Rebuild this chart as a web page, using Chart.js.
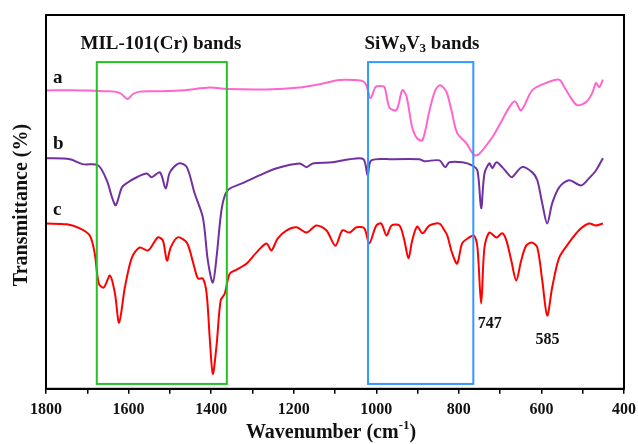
<!DOCTYPE html>
<html>
<head>
<meta charset="utf-8">
<script src="https://cdn.jsdelivr.net/npm/chart.js@4.4.1/dist/chart.umd.min.js"></script>
<style>
  html, body { margin: 0; padding: 0; background: #fff; }
  #wrap { width: 638px; height: 444px; }
</style>
</head>
<body>
<div id="wrap"><canvas id="myChart" width="638" height="444"></canvas></div>
<script>
// spectra (wavenumber cm-1, transmittance in arbitrary offset units)
const wnA = [1800,1742,1694,1657,1633,1619,1602,1590,1573,1524,1464,1403,1362,1266,1186,1137,1089,1053,1033,1024,1014,1002,990,980,968,951,937,927,913,901,888,871,857,845,830,818,804,782,763,751,719,702,678,664,649,622,589,557,545,533,514,492,477,468,460,451];
const tA  = [79.8,79.9,79.8,79.6,79.5,79.0,77.5,78.8,79.5,79.6,79.9,80.6,80.2,80.1,80.6,81.5,82.6,82.6,82.3,81.2,77.7,80.7,81.0,80.7,75.2,74.6,79.9,78.3,70.0,67.0,66.5,74.5,79.9,81.2,79.4,74.5,68.4,65.7,62.5,62.8,67.3,70.5,75.3,76.9,74.5,79.9,81.8,82.7,80.8,78.6,75.9,76.7,79.1,81.8,80.7,82.7];

const wnB = [1800,1742,1711,1674,1653,1640,1631,1616,1602,1580,1556,1544,1524,1510,1500,1478,1459,1440,1420,1408,1396,1387,1374,1360,1324,1283,1241,1186,1169,1154,1106,1065,1031,1021,1012,961,896,884,847,833,823,792,768,755,746,738,726,719,709,695,678,671,647,622,610,598,586,574,557,533,504,485,468,451];
const tB  = [61.7,61.4,60.1,59.8,55.8,51.2,49.1,53.9,55.2,56.6,57.6,56.6,57.9,53.6,57.9,60.3,59.3,52.3,45.8,34.3,28.4,35.1,48.5,53.1,55.0,57.1,59.0,60.3,59.3,60.3,60.6,61.4,61.4,57.1,61.1,61.4,61.4,60.9,61.1,59.3,60.6,60.6,59.8,58.4,48.3,57.6,60.3,59.0,60.6,59.3,57.1,56.6,59.3,57.9,55.8,49.6,44.2,49.6,53.9,55.8,54.4,56.3,58.4,61.7];

const wnC = [1800,1749,1718,1694,1682,1672,1660,1645,1633,1623,1609,1592,1573,1553,1529,1517,1507,1498,1481,1459,1445,1432,1420,1411,1403,1396,1387,1377,1367,1355,1338,1314,1290,1266,1254,1239,1217,1193,1169,1145,1121,1099,1082,1065,1048,1029,1017,1000,988,975,963,944,932,922,913,901,888,871,847,835,828,816,804,792,775,763,755,746,738,726,709,695,685,673,661,649,637,622,610,598,586,574,557,533,509,485,468,451];
const tC  = [44.2,44.0,42.9,41.0,36.2,28.1,27.1,30.3,25.5,17.7,27.1,35.1,37.8,37.0,40.5,39.7,34.3,37.8,40.5,39.1,34.3,29.5,29.5,25.5,12.9,4.0,11.5,23.6,25.5,30.8,31.9,33.5,36.5,38.9,37.0,40.2,42.4,43.2,41.8,43.7,42.4,38.3,42.4,41.8,43.2,42.9,38.9,43.7,44.2,41.0,43.7,43.7,39.7,34.9,39.7,43.4,41.6,43.7,44.2,42.4,41.0,36.2,33.5,38.9,40.5,41.0,37.8,22.8,37.8,41.8,40.5,41.6,39.7,34.3,29.0,34.3,38.3,39.1,37.8,29.0,19.6,27.1,35.1,39.1,42.4,44.2,43.7,44.2];

const seriesLabels = ['a', 'b', 'c'];
const xTicks = [1800, 1600, 1400, 1200, 1000, 800, 600, 400];
// highlighted band regions [from, to] in cm-1
const milBand = [1677, 1362];
const siwBand = [1020, 765];
const peakLabels = [747, 585];

const serif = '"Liberation Serif", "Times New Roman", serif';

function pts(xs, ys) {
  return xs.map((x, i) => ({ x: x, y: ys[i] }));
}

// frame, band boxes and text
const decorations = {
  id: 'decorations',
  afterDatasetsDraw(chart) {
    const { ctx, chartArea: a, scales: { x, y } } = chart;
    ctx.save();

    // band boxes
    ctx.lineWidth = 2;
    const top = y.getPixelForValue(87.4), bot = y.getPixelForValue(1.3);
    ctx.strokeStyle = '#22c322';
    ctx.strokeRect(x.getPixelForValue(milBand[0]), top,
      x.getPixelForValue(milBand[1]) - x.getPixelForValue(milBand[0]), bot - top);
    ctx.strokeStyle = '#3399ff';
    ctx.strokeRect(x.getPixelForValue(siwBand[0]), top,
      x.getPixelForValue(siwBand[1]) - x.getPixelForValue(siwBand[0]), bot - top);

    // frame
    ctx.strokeStyle = '#000';
    ctx.lineWidth = 2;
    ctx.strokeRect(a.left, a.top, a.right - a.left, a.bottom - a.top);

    ctx.fillStyle = '#111';
    ctx.textBaseline = 'middle';

    // series letters
    ctx.font = 'bold 19px ' + serif;
    ctx.textAlign = 'left';
    const letterY = [83, 65.5, 47.8];
    seriesLabels.forEach((s, i) => {
      ctx.fillText(s, a.left + 7, y.getPixelForValue(letterY[i]));
    });

    // band titles
    ctx.textAlign = 'center';
    ctx.fillText('MIL-101(Cr) bands', 161, 44);

    // SiW9V3 with subscripts
    const parts = [['SiW', false], ['9', true], ['V', false], ['3', true], [' bands', false]];
    const big = 'bold 19px ' + serif, small = 'bold 13px ' + serif;
    let w = 0;
    parts.forEach(p => {
      ctx.font = p[1] ? small : big;
      w += ctx.measureText(p[0]).width;
    });
    let cx = 422 - w / 2;
    ctx.textAlign = 'left';
    parts.forEach(p => {
      ctx.font = p[1] ? small : big;
      ctx.fillText(p[0], cx, p[1] ? 49 : 44);
      cx += ctx.measureText(p[0]).width;
    });

    // peak labels
    ctx.font = 'bold 16px ' + serif;
    ctx.textAlign = 'center';
    ctx.fillText(String(peakLabels[0]), x.getPixelForValue(725), y.getPixelForValue(18.2) + 3);
    ctx.fillText(String(peakLabels[1]), x.getPixelForValue(585), y.getPixelForValue(14.2) + 4);

    // axis titles
    const tf = 'bold 20px ' + serif, sf = 'bold 13px ' + serif;
    ctx.font = tf;
    const t1 = 'Wavenumber (cm', t2 = '-1', t3 = ')';
    const w1 = ctx.measureText(t1).width, w3 = ctx.measureText(t3).width;
    ctx.font = sf;
    const w2 = ctx.measureText(t2).width;
    let tx = 331 - (w1 + w2 + w3) / 2;
    ctx.textAlign = 'left';
    ctx.font = tf;
    ctx.fillText(t1, tx, 433);
    ctx.font = sf;
    ctx.fillText(t2, tx + w1, 426);
    ctx.font = tf;
    ctx.fillText(t3, tx + w1 + w2, 433);

    ctx.translate(22, 205);
    ctx.rotate(-Math.PI / 2);
    ctx.textAlign = 'center';
    ctx.fillText('Transmittance (%)', 0, 0);

    ctx.restore();
  }
};

const common = { fill: false, pointRadius: 0, borderWidth: 2, tension: 0.3 };

new Chart(document.getElementById('myChart'), {
  type: 'line',
  data: {
    datasets: [
      Object.assign({ label: 'a', data: pts(wnA, tA), borderColor: '#ff66cc' }, common),
      Object.assign({ label: 'b', data: pts(wnB, tB), borderColor: '#7030a0' }, common),
      Object.assign({ label: 'c', data: pts(wnC, tC), borderColor: '#ff0000' }, common)
    ]
  },
  options: {
    responsive: false,
    animation: false,
    layout: { padding: { left: 46, top: 15, right: 14, bottom: 19 } },
    plugins: { legend: { display: false }, tooltip: { enabled: false } },
    scales: {
      x: {
        type: 'linear',
        reverse: true,
        min: 400,
        max: 1800,
        afterFit: (scale) => { scale.paddingLeft = 0; scale.paddingRight = 0; },
        grid: { display: true, drawOnChartArea: false, drawTicks: true, tickLength: 5, color: '#000', lineWidth: 1.5 },
        border: { display: true, color: '#000', width: 2 },
        ticks: {
          stepSize: 100,
          autoSkip: false,
          maxRotation: 0,
          padding: 6,
          color: '#111',
          font: { family: serif, size: 16, weight: 'bold' },
          callback: (v) => (xTicks.includes(v) ? String(v) : '')
        }
      },
      y: {
        display: false,
        min: 0,
        max: 100
      }
    }
  },
  plugins: [decorations]
});
</script>
</body>
</html>
